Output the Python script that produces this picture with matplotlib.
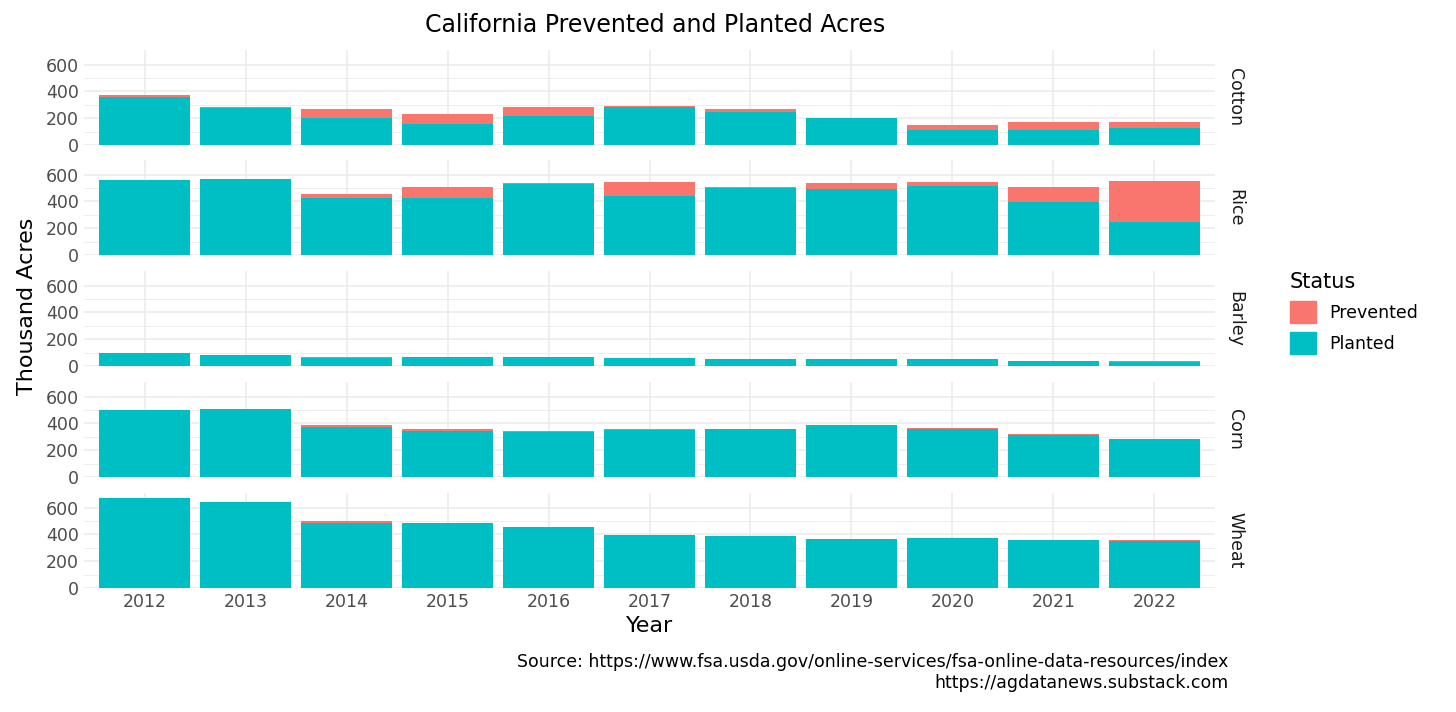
import numpy as np
import matplotlib.pyplot as plt
from matplotlib.patches import Patch

years = list(range(2012, 2023))
crops = ["Cotton", "Rice", "Barley", "Corn", "Wheat"]

# total (planted + prevented) and planted, thousand acres
total = {
    "Cotton": [370, 280, 270, 230, 285, 290, 270, 200, 150, 175, 175],
    "Rice": [560, 570, 455, 505, 540, 545, 505, 540, 545, 505, 550],
    "Barley": [100, 80, 65, 65, 70, 60, 55, 55, 50, 40, 35],
    "Corn": [500, 505, 390, 360, 340, 355, 355, 385, 365, 320, 285],
    "Wheat": [675, 640, 500, 485, 455, 395, 385, 365, 370, 360, 360],
}
planted = {
    "Cotton": [360, 275, 200, 155, 215, 280, 245, 200, 110, 110, 125],
    "Rice": [560, 565, 425, 425, 530, 440, 500, 495, 515, 395, 250],
    "Barley": [100, 80, 60, 65, 65, 60, 55, 50, 50, 35, 30],
    "Corn": [500, 505, 375, 345, 335, 350, 355, 385, 360, 315, 285],
    "Wheat": [675, 640, 485, 485, 455, 395, 385, 365, 370, 355, 350],
}

RED = "#F8766D"
TEAL = "#00BFC4"
GRID = "#EBEBEB"

fig = plt.figure(figsize=(14.56, 7.12), dpi=100)
left, right = 84 / 1456, 1215 / 1456
tops = [50, 160, 271, 382, 493]
ph = 95
x = np.arange(len(years))
for i, crop in enumerate(crops):
    ax = fig.add_axes([left, 1 - (tops[i] + ph) / 712, right - left, ph / 712])
    p = np.array(planted[crop])
    t = np.array(total[crop])
    ax.bar(x, p, width=0.9, color=TEAL, zorder=3)
    ax.bar(x, t - p, bottom=p, width=0.9, color=RED, zorder=3)
    ax.set_ylim(0, 709)
    ax.set_xlim(-0.6, len(years) - 0.4)
    ax.set_yticks([0, 200, 400, 600])
    ax.set_yticks([100, 300, 500], minor=True)
    ax.set_xticks(x)
    ax.grid(True, which="major", color=GRID, lw=1.1, zorder=0)
    ax.grid(True, which="minor", axis="y", color=GRID, lw=0.6, zorder=0)
    for s in ax.spines.values():
        s.set_visible(False)
    ax.tick_params(length=0, labelsize=12.5, colors="#4D4D4D", which="both")
    if i < len(crops) - 1:
        ax.set_xticklabels([])
    else:
        ax.set_xticklabels([str(y) for y in years])
        ax.set_xlabel("Year", fontsize=16)
    ax.text(1.01, 0.5, crop, transform=ax.transAxes, rotation=-90,
            ha="left", va="center", fontsize=12.5, color="#1A1A1A")

fig.text(0.012, 0.57, "Thousand Acres", rotation=90, ha="left", va="center", fontsize=16)
fig.text(0.45, 0.965, "California Prevented and Planted Acres", ha="center",
         va="center", fontsize=17)
fig.legend(handles=[Patch(color=RED, label="Prevented"), Patch(color=TEAL, label="Planted")],
           title="Status", loc="center left", bbox_to_anchor=(0.875, 0.56),
           frameon=False, fontsize=12.5, title_fontsize=15, alignment="left",
           handlelength=1.5, handleheight=1.6)
fig.text(0.844, 0.055, "Source: https://www.fsa.usda.gov/online-services/fsa-online-data-resources/index\nhttps://agdatanews.substack.com",
         ha="right", va="center", fontsize=12.5, multialignment="right")
fig.savefig("out.png", dpi=100)
